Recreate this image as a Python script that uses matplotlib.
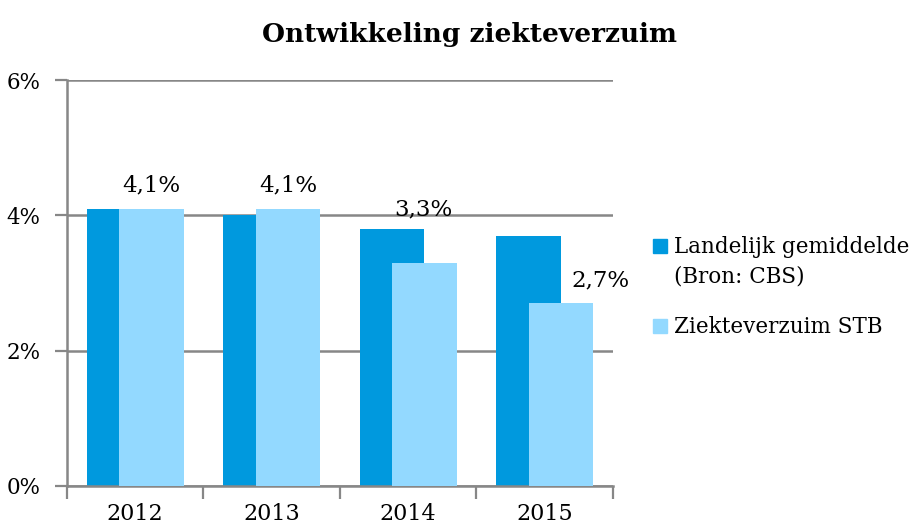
import matplotlib
matplotlib.use("Agg")
import matplotlib.pyplot as plt
from matplotlib.patches import Rectangle
import numpy as np

years = ["2012", "2013", "2014", "2015"]
landelijk = [4.1, 4.0, 3.8, 3.7]
stb = [4.1, 4.1, 3.3, 2.7]
stb_labels = ["4,1%", "4,1%", "3,3%", "2,7%"]
series_names = ["Landelijk gemiddelde\n(Bron: CBS)", "Ziekteverzuim STB"]
yticks = [0, 2, 4, 6]
ytick_labels = ["0%", "2%", "4%", "6%"]
title = "Ontwikkeling ziekteverzuim"

dark = "#0099de"
light = "#93d9ff"
grid_c = "#878787"

plt.rcParams["font.family"] = ["DejaVu Serif"]

fig = plt.figure(figsize=(9.2, 5.28), dpi=100)
W, H = 920, 528
ax = fig.add_axes([67 / W, 1 - 486 / H, (613 - 67) / W, (486 - 80) / H])

x = np.arange(len(years))
bw = 0.473
off = 0.12
ax.bar(x - off, landelijk, width=bw, color=dark, zorder=2)
ax.bar(x + off, stb, width=bw, color=light, zorder=3)

ax.set_xlim(-0.5, len(years) - 0.5)
ax.set_ylim(0, 6)
ax.set_yticks(yticks)
ax.set_yticklabels(ytick_labels, fontsize=15.5)
ax.set_xticks(np.arange(len(years) + 1) - 0.5)
ax.set_xticklabels([])
ax.set_xticks(x, minor=True)
ax.set_xticklabels(years, minor=True, fontsize=16)
ax.tick_params(axis="x", which="minor", length=0, pad=12)
ax.tick_params(axis="x", which="major", length=9, width=1.6, color=grid_c)
ax.tick_params(axis="y", length=9, width=1.6, color=grid_c, pad=10)

ax.grid(axis="y", color=grid_c, linewidth=1.8, zorder=1)
for s in ["top", "right"]:
    ax.spines[s].set_visible(False)
for s in ["left", "bottom"]:
    ax.spines[s].set_color(grid_c)
    ax.spines[s].set_linewidth(1.8)
ax.set_axisbelow(True)

# data labels (manually placed in the original)
offsets = [(0, 12), (0, 12), (-1, 34), (28, 12)]
for i, (v, lab) in enumerate(zip(stb, stb_labels)):
    ax.annotate(lab, (x[i] + off, v), xytext=offsets[i], textcoords="offset points",
                ha="center", va="baseline", fontsize=16.5, zorder=5)

fig.text(470 / W, 1 - 42 / H, title, ha="center", va="baseline",
         fontsize=19, fontweight="bold")

# legend
sq_top = [239, 319]
for name, col, top in zip(series_names, [dark, light], sq_top):
    fig.patches.append(Rectangle((653 / W, 1 - (top + 14) / H), 14 / W, 14 / H,
                                 transform=fig.transFigure, color=col))
    for j, line in enumerate(name.split("\n")):
        fig.text(674 / W, 1 - (top + 14 + 30 * j) / H, line, ha="left",
                 va="baseline", fontsize=15.5)

fig.savefig("out.png", dpi=100)
